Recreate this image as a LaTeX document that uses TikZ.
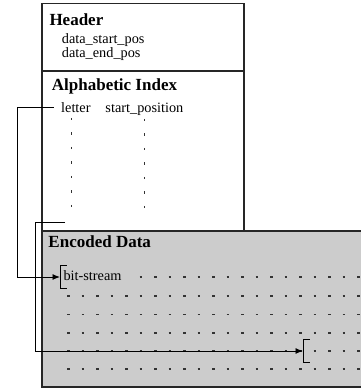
\documentclass[tikz,border=0pt]{standalone}
\usepackage{fontspec}
\setmainfont{Liberation Serif}
\usetikzlibrary{arrows.meta}
\begin{document}
\begin{tikzpicture}[x=1pt,y=-1pt,
    box/.style={draw=black!85,line width=1.2pt},
    title/.style={anchor=base west,inner sep=0pt,font=\fontsize{17}{17}\selectfont\bfseries},
    entry/.style={anchor=base west,inner sep=0pt,font=\fontsize{14.3}{14.3}\selectfont},
    link/.style={line width=0.9pt,-{Latex[length=7.5pt,width=6pt]}},
    bracket/.style={line width=0.9pt},
    tickdot/.style={line width=1pt,black!80},
    rowdot/.style={line width=1.1pt,black!80}]
  \useasboundingbox (0,0) rectangle (361,392);
  \draw[box,fill=black!20] (42,231) rectangle (370,387);
  \draw[box] (42,3.5) rectangle (244,71);
  \draw[box] (42,71) rectangle (244,231);
  \node[title] (header) at (49.3,25) {Header};
  \node[entry] (startpos) at (61.7,43.8) {data\_start\_pos};
  \node[entry] (endpos) at (61.7,57.3) {data\_end\_pos};
  \node[title] (index) at (51.7,90) {Alphabetic Index};
  \node[entry] (letter) at (61,112.7) {letter};
  \node[entry] (startposition) at (105.3,112.7) {start\_position};
  \node[title] (encoded) at (48.3,247.7) {Encoded Data};
  \node[entry] (bitstream) at (63.3,280) {bit-stream};
  % index columns
  \foreach \i in {0,...,6} {
    \draw[tickdot] (71.7,{117.8+14.5*\i}) -- ++(0,2.5);
    \draw[tickdot] (144,{118.8+14.5*\i}) -- ++(0,2.5);
  }
  % encoded rows
  \foreach \k in {5,...,20}
    \draw[rowdot] ({68.3+14.5*\k-1.2},277) -- ++(2.4,0);
  \foreach \y in {296,314.5,333,351,369}
    \foreach \k in {0,...,20}
      \draw[rowdot] ({68.3+14.5*\k-1.2},\y) -- ++(2.4,0);
  \coordinate (firstbit) at (60,277);
  \coordinate (lastbit) at (303,351);
  \coordinate (lastentry) at (65,222.7);
  \draw[bracket] (firstbit) ++(6.5,-11.3) -| ++(-6.5,22.3) -- ++(6.5,0);
  \draw[bracket] (lastbit) ++(6.5,-11.8) -| ++(-6.5,22.8) -- ++(6.5,0);
  \draw[link] ([xshift=-7.5pt]letter.west) -- ++(-36.5,0) |- (firstbit);
  \draw[link] (lastentry) -- ++(-30,0) |- (lastbit);
\end{tikzpicture}
\end{document}
